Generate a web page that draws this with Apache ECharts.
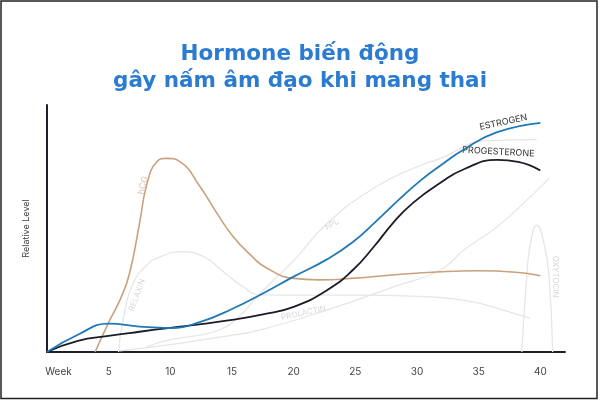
<!DOCTYPE html>
<html>
<head>
<meta charset="utf-8">
<script src="https://cdn.jsdelivr.net/npm/echarts@6/dist/echarts.min.js"></script>
<style>html,body{margin:0;padding:0;background:#fff}#c{width:600px;height:400px}</style>
</head>
<body>
<div id="c"></div>
<script>
// ---- data (weeks of pregnancy, relative level 0-100) ----
const xTicks = [0, 5, 10, 15, 20, 25, 30, 35, 40];
const xTickLabels = ['Week', '5', '10', '15', '20', '25', '30', '35', '40'];

const estrogenWeeks = [0, 2.5, 5, 7.5, 10, 12.5, 15, 17.5, 20, 22.7, 24.8, 26.7, 28.6, 30.3, 31.9, 33.8, 36.5, 40];
const estrogenVals  = [0, 7, 11.5, 10.3, 9.7, 12.3, 17.4, 23.7, 30.5, 37.5, 44.5, 53, 62, 69.5, 75.5, 82, 89, 92.8];

const progWeeks = [0, 2.5, 5, 7.5, 10, 12.5, 15, 17.5, 20, 22.7, 24.8, 26.5, 28.1, 29.7, 31.9, 33.8, 36.5, 38.2, 40];
const progVals  = [0, 4.5, 6.5, 8.2, 9.8, 11.3, 13, 15.2, 18.3, 25, 33.2, 42.6, 52.5, 60.5, 68.5, 74, 77.8, 77, 73.5];

const hcgWeeks = [3.9, 5, 6, 6.7, 7.5, 8.1, 8.9, 9.7, 10.8, 12.4, 13.8, 15.1, 16.5, 17.8, 20, 22, 25, 28, 32, 35, 38, 40];
const hcgVals  = [0, 12, 22, 32, 52, 68, 77, 78.4, 77, 67, 56, 46.7, 39.3, 34, 29.8, 29.2, 29.9, 31.2, 32.5, 32.9, 32.3, 30.9];

const relaxinWeeks = [5.8, 6.2, 7, 8.1, 9.2, 10.9, 12.7, 14.3, 15.9, 17.3, 20, 25, 30, 33, 35.1, 37, 39.2];
const relaxinVals  = [0, 14, 27.8, 35.2, 38.6, 40.6, 38.6, 32.5, 26.4, 23.1, 23, 23, 22.5, 21.5, 19.7, 17, 13.6];

const hplWeeks = [8, 10, 12, 14, 15.5, 17.3, 20, 22.7, 26.7, 30, 31.9, 35.6, 39.7];
const hplVals  = [2, 5, 6.5, 9, 14, 23.8, 37, 52, 67, 75, 78.4, 85.5, 86];

const prolactinWeeks = [5.9, 10, 14, 17.3, 22.7, 28.1, 31.9, 33.8, 36.5, 39.2, 40.7];
const prolactinVals  = [0.5, 3, 6, 9, 17, 26.4, 33.2, 41.3, 50.7, 62.9, 70.3];

const oxytocinWeeks = [38.5, 38.9, 39.2, 39.7, 40.3, 40.7, 41];
const oxytocinVals  = [0, 30.5, 44, 51.4, 44, 30.5, 0];

// ---- helpers ----
const pairs = (w, v) => w.map((x, i) => [x, v[i]]);
const GRAY = '#e6e6e6';
const GRAYTXT = '#d6d6d6';
function lbl(coord, text, rotate, color, size) {
  return {
    coord: coord,
    symbol: 'circle', symbolSize: 0,
    label: {
      show: true, position: 'inside', formatter: text, rotate: rotate,
      color: color, fontSize: size || 9, fontFamily: 'Inter, Roboto, sans-serif'
    }
  };
}
function line(name, data, color, width, z, marks) {
  return {
    name: name, type: 'line', data: data, smooth: 0.5, showSymbol: false,
    lineStyle: { color: color, width: width }, itemStyle: { color: color },
    z: z, silent: true, animation: false,
    markPoint: marks ? { silent: true, animation: false, data: marks } : undefined
  };
}

const chart = echarts.init(document.getElementById('c'));
chart.setOption({
  backgroundColor: '#fff',
  animation: false,
  title: {
    text: 'Hormone biến động\ngây nấm âm đạo khi mang thai',
    left: 'center', top: 36,
    textStyle: { color: '#2b7cd1', fontSize: 21.5, fontWeight: 'bold', lineHeight: 27, fontFamily: '"DejaVu Sans", sans-serif' }
  },
  grid: { left: 47, right: 35, top: 105, bottom: 48 },
  xAxis: {
    type: 'value', min: 0, max: 42, interval: 5,
    axisLine: { show: true, lineStyle: { color: '#1c1f2e', width: 2 } },
    axisTick: { show: false }, splitLine: { show: false },
    axisLabel: {
      margin: 15, color: '#444', fontSize: 10, fontFamily: 'Inter, Roboto, sans-serif',
      showMaxLabel: false,
      formatter: v => {
        const i = xTicks.indexOf(v);
        if (i < 0) return '';
        return i === 0 ? '{w|' + xTickLabels[i] + '}' : xTickLabels[i];
      },
      rich: { w: { padding: [0, 0, 0, 23], color: '#444', fontSize: 10, fontFamily: 'Inter, Roboto, sans-serif' } }
    }
  },
  yAxis: {
    type: 'value', min: 0, max: 100,
    name: 'Relative Level', nameLocation: 'middle', nameGap: 16, nameRotate: 90,
    nameTextStyle: { color: '#444', fontSize: 9, fontFamily: 'Inter, Roboto, sans-serif' },
    axisLine: { show: true, lineStyle: { color: '#1c1f2e', width: 2 } },
    axisTick: { show: false }, splitLine: { show: false }, axisLabel: { show: false }
  },
  graphic: [{
    type: 'rect', silent: true, z: 100,
    shape: { x: 1, y: 1, width: 596, height: 397.5 },
    style: { fill: 'none', stroke: '#222', lineWidth: 1.5 }
  }],
  series: [
    line('Relaxin', pairs(relaxinWeeks, relaxinVals), GRAY, 1.3, 1, [lbl([7.3, 23], 'RELAXIN', 70, GRAYTXT, 8)]),
    line('hPL', pairs(hplWeeks, hplVals), GRAY, 1.3, 1, [lbl([23.1, 51.6], 'hPL', 30, GRAYTXT, 8)]),
    line('Prolactin', pairs(prolactinWeeks, prolactinVals), GRAY, 1.3, 1, [lbl([20.8, 15.8], 'PROLACTIN', 12, GRAYTXT, 8)]),
    line('Oxytocin', pairs(oxytocinWeeks, oxytocinVals), GRAY, 1.3, 1, [lbl([41.2, 30.5], 'OXYTOCIN', -90, GRAYTXT, 8)]),
    line('hCG', pairs(hcgWeeks, hcgVals), '#c9a27d', 1.6, 3, [lbl([7.8, 67.5], 'hCG', 75, '#d8c3ae', 9)]),
    line('Progesterone', pairs(progWeeks, progVals), '#1b1c2a', 1.8, 4, [lbl([36.6, 81], 'PROGESTERONE', -3, '#333', 9)]),
    line('Estrogen', pairs(estrogenWeeks, estrogenVals), '#1f79b6', 1.8, 5, [lbl([37, 93], 'ESTROGEN', 12, '#333', 9)])
  ]
});
</script>
</body>
</html>
